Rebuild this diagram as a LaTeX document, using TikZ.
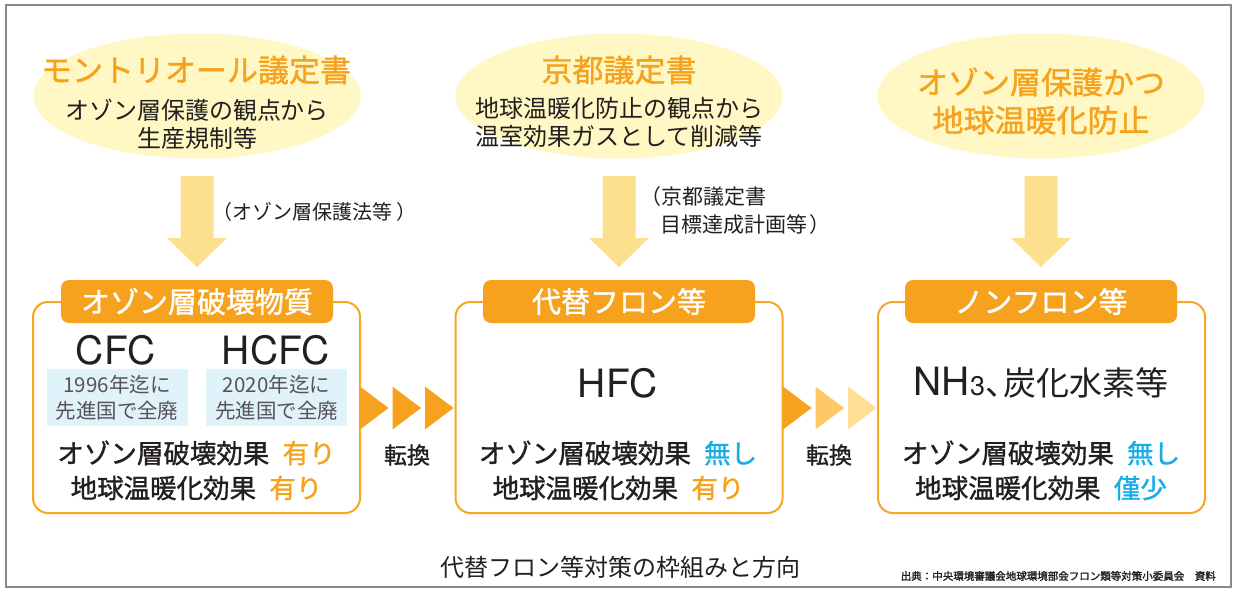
\documentclass[tikz,border=0pt]{standalone}
\usepackage{fontspec}
\setmainfont{Noto Sans CJK JP}
\newfontfamily\jpm{Noto Sans CJK JP}[FakeBold=1.2]
\newfontfamily\jpb{Noto Sans CJK JP}[FakeBold=2]
\newfontfamily\latn{TeX Gyre Heros}
\definecolor{framegray}{HTML}{8A8A8A}
\definecolor{ellyellow}{HTML}{FFF8C4}
\definecolor{titleorange}{HTML}{F6A21E}
\definecolor{arrowyellow}{HTML}{FDE08E}
\definecolor{boxorange}{HTML}{F6A623}
\definecolor{lightblue}{HTML}{E0F2FA}
\definecolor{textblue}{HTML}{1AADE5}
\definecolor{textgray}{HTML}{555555}
\definecolor{textblack}{HTML}{231F20}
\definecolor{trimid}{HTML}{FDC865}
\definecolor{trilight}{HTML}{FEDF95}
\tikzset{
  ell/.style={ellipse, fill=ellyellow, minimum width=327pt, minimum height=125pt, inner sep=0pt},
  card/.style={draw=boxorange, line width=2pt, rounded corners=15pt, minimum width=327pt, minimum height=211pt, inner sep=0pt},
  tab/.style={fill=titleorange, rounded corners=8pt, minimum width=272pt, minimum height=43pt, inner sep=0pt, text=white, font=\jpm\fontsize{29}{32}\selectfont},
  bluebox/.style={fill=lightblue, minimum width=141pt, minimum height=57pt, inner sep=0pt, text=textgray, align=center, font=\fontsize{20.5}{28}\selectfont},
  chem/.style={text=textblack, inner sep=0pt, font=\latn\fontsize{39}{42}\selectfont},
  effect/.style={text=textblack, inner sep=0pt, font=\jpm\fontsize{26.5}{30}\selectfont},
  conv/.style={text=textblack, inner sep=0pt, font=\jpm\fontsize{23}{28}\selectfont},
  note/.style={text=textblack, inner sep=0pt, anchor=west, font=\fontsize{20}{24}\selectfont},
  toptitle/.style={text=titleorange, inner sep=0pt, font=\jpm\fontsize{31}{38}\selectfont, align=center},
  topsub/.style={text=textblack, inner sep=0pt, font=\fontsize{24}{28.5}\selectfont, align=center},
  downarrow/.style={fill=arrowyellow},
}
\usetikzlibrary{shapes.geometric}
\newcommand{\downarr}[1]{%
  \fill[downarrow] (#1) ++(-16.5,0) -- ++(33,0) -- ++(0,62) -- ++(13.5,0) -- ++(-30,29) -- ++(-30,-29) -- ++(13.5,0) -- cycle;}
\newcommand{\tri}[2]{%
  \fill[#2] (#1) ++(0,-21.5) -- ++(28.5,21.5) -- ++(-28.5,21.5) -- cycle;}
\begin{document}
\begin{tikzpicture}[x=1pt,y=-1pt]
\useasboundingbox (0,0) rectangle (1240,595);
\draw[framegray, line width=1.3pt] (6,5) rectangle (1231,587);

% ellipses
\node[ell] (e1) at (197,96) {};
\node[ell] (e2) at (619,96) {};
\node[ell] (e3) at (1041,96) {};
\node[toptitle] (t1) at (196,70) {モントリオール議定書};
\node[topsub] (s1) at (197,124) {オゾン層保護の観点から\\生産規制等};
\node[toptitle] (t2) at (619,70) {京都議定書};
\node[topsub] (s2) at (619,122.5) {地球温暖化防止の観点から\\温室効果ガスとして削減等};
\node[toptitle] (t3) at (1041,101) {オゾン層保護かつ\\地球温暖化防止};

% down arrows
\coordinate (a1) at (197,176);
\coordinate (a2) at (619,176);
\coordinate (a3) at (1041,176);
\downarr{a1}
\downarr{a2}
\downarr{a3}
\node[note] (n1) at (212,212) {（オゾン層保護法等\kern4pt）};
\node[note, font=\fontsize{21}{24}\selectfont] (n2) at (640,197) {（京都議定書};
\node[note, font=\fontsize{21}{24}\selectfont] (n3) at (660,225) {目標達成計画等\kern2pt）};

% boxes
\node[card] (b1) at (196.5,407.5) {};
\node[card] (b2) at (619,407.5) {};
\node[card] (b3) at (1041.5,407.5) {};
\node[tab] (h1) at (197,301.5) {オゾン層破壊物質};
\node[tab] (h2) at (619,301.5) {代替フロン等};
\node[tab] (h3) at (1041,301.5) {ノンフロン等};

% box 1 content
\node[chem] (cfc) at (116,350) {CFC};
\node[chem] (hcfc) at (276,350) {HCFC};
\node[bluebox] (p1) at (117,397.5) {1996年迄に\\[-2pt]先進国で全廃};
\node[bluebox] (p2) at (276.5,397.5) {2020年迄に\\[-2pt]先進国で全廃};
\node[effect] (o1) at (196.5,453) {オゾン層破壊効果\hspace{0.5em}\textcolor{titleorange}{有り}};
\node[effect] (g1) at (196.5,488) {地球温暖化効果\hspace{0.5em}\textcolor{titleorange}{有り}};

% box 2 content
\node[chem] (hfc) at (618,383) {HFC};
\node[effect] (o2) at (618,453) {オゾン層破壊効果\hspace{0.5em}\textcolor{textblue}{無し}};
\node[effect] (g2) at (618.5,488) {地球温暖化効果\hspace{0.5em}\textcolor{titleorange}{有り}};

% box 3 content
\node[chem] (nh3) at (1041,383) {NH{\fontsize{27}{30}\selectfont 3}{\rmfamily\fontsize{33}{36}\selectfont 、\kern-0.45em 炭化水素等}};
\node[effect] (o3) at (1041,453) {オゾン層破壊効果\hspace{0.5em}\textcolor{textblue}{無し}};
\node[effect] (g3) at (1041,488) {地球温暖化効果\hspace{0.5em}\textcolor{textblue}{僅少}};

% conversion triangles
\coordinate (c1) at (360,408);
\coordinate (c2) at (392.5,408);
\coordinate (c3) at (425,408);
\coordinate (c4) at (783,408);
\coordinate (c5) at (815.5,408);
\coordinate (c6) at (848,408);
\tri{c1}{titleorange}
\tri{c2}{titleorange}
\tri{c3}{titleorange}
\tri{c4}{titleorange}
\tri{c5}{trimid}
\tri{c6}{trilight}
\node[conv] (k1) at (407,455) {転換};
\node[conv] (k2) at (829,455) {転換};

% caption & source
\node[text=textblack, inner sep=0pt, font=\fontsize{24}{26}\selectfont] (cap) at (620,567) {代替フロン等対策の枠組みと方向};
\node[text=textblack, inner sep=0pt, anchor=east, font=\jpb\fontsize{10.5}{12}\selectfont] (src) at (1216,576) {出典：中央環境審議会地球環境部会フロン類等対策小委員会\hspace{1em}資料};
\end{tikzpicture}
\end{document}
